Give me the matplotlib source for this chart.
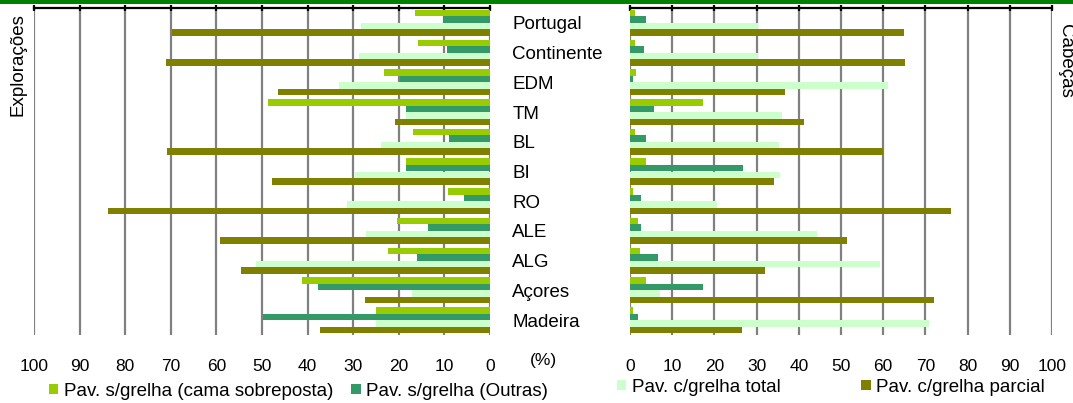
import matplotlib
matplotlib.use("Agg")
import matplotlib.pyplot as plt
from matplotlib.patches import Patch, Rectangle
import numpy as np

plt.rcParams['font.family'] = ['Liberation Sans', 'DejaVu Sans']

regions = ['Portugal', 'Continente', 'EDM', 'TM', 'BL', 'BI', 'RO', 'ALE', 'ALG', 'Açores', 'Madeira']
series = ['Pav. s/grelha (cama sobreposta)', 'Pav. s/grelha (Outras)',
          'Pav. c/grelha total', 'Pav. c/grelha parcial']
colors = ['#99CC00', '#339966', '#CCFFCC', '#808000']

# Explorações (%)
expl_cama = [16.4, 15.7, 23.2, 48.7, 16.8, 18.4, 9.2, 20.4, 22.3, 41.2, 24.9]
expl_outras = [10.3, 9.4, 19.8, 18.4, 9.0, 18.4, 5.8, 13.6, 16.0, 37.8, 49.8]
expl_total = [28.3, 28.7, 33.2, 18.4, 24.0, 29.5, 31.4, 27.2, 51.4, 17.0, 24.9]
expl_parcial = [69.8, 71.1, 46.5, 20.8, 70.9, 47.9, 83.8, 59.3, 54.7, 27.4, 37.3]

# Cabeças (%)
cab_cama = [1.2, 1.2, 1.5, 17.2, 1.2, 3.9, 0.8, 1.8, 2.3, 3.7, 0.8]
cab_outras = [3.7, 3.3, 0.8, 5.8, 3.7, 26.7, 2.7, 2.6, 6.7, 17.3, 1.8]
cab_total = [30.4, 30.4, 61.1, 36.0, 35.3, 35.5, 20.7, 44.4, 59.2, 7.2, 70.9]
cab_parcial = [64.9, 65.1, 36.7, 41.3, 60.0, 34.2, 76.0, 51.4, 32.1, 72.1, 26.5]

ticks = list(range(0, 101, 10))

W, H = 1073, 403
fig = plt.figure(figsize=(W / 100, H / 100), dpi=100)

top = 1 - 8 / H
bottom = 1 - 335 / H
ax1 = fig.add_axes([34 / W, bottom, 456 / W, top - bottom])
ax2 = fig.add_axes([630 / W, bottom, 422 / W, top - bottom])

y = np.arange(len(regions)) + 0.5
bh = 0.22
offsets = [-1.5 * bh, -0.5 * bh, 0.5 * bh, 1.5 * bh]

for ax, data in [(ax1, [expl_cama, expl_outras, expl_total, expl_parcial]),
                 (ax2, [cab_cama, cab_outras, cab_total, cab_parcial])]:
    for vals, off, c in zip(data, offsets, colors):
        ax.barh(y + off, vals, height=bh, color=c, linewidth=0)
    ax.set_ylim(len(regions), 0)
    ax.set_xticks(ticks)
    ax.set_axisbelow(True)
    ax.grid(axis='x', color='#808080', linewidth=1.6)
    for s in ['left', 'right', 'bottom']:
        ax.spines[s].set_visible(False)
    ax.spines['top'].set_linewidth(1.6)
    # tick marks on top, labels at the bottom
    ax.tick_params(axis='x', which='both', top=True, bottom=False, length=5, width=1.6,
                   direction='inout', labelsize=12.5, pad=15,
                   labelbottom=True, labeltop=False)
    ax.set_xticklabels([str(t) for t in ticks])

ax1.set_xlim(100, 0)
ax2.set_xlim(0, 100)

ax1.set_yticks(y)
ax1.set_yticklabels(regions, fontsize=13.5)
ax1.tick_params(axis='y', left=False, labelleft=False, right=True, labelright=True,
                length=0, pad=16)
ax2.set_yticks([])

fig.text(18 / W, 1 - 65 / H, 'Explorações', rotation=90, ha='center', va='center', fontsize=13.5)
fig.text(1066 / W, 1 - 61 / H, 'Cabeças', rotation=270, ha='center', va='center', fontsize=13.5)
fig.text(543 / W, 1 - 360 / H, '(%)', ha='center', va='center', fontsize=12.5)

# green rule on top
fig.add_artist(Rectangle((0, 1 - 3.5 / H), 1, 3.5 / H, transform=fig.transFigure,
                         color='#008000', linewidth=0))

handles = [Patch(facecolor=c, edgecolor='none') for c in colors]
leg_kw = dict(frameon=False, fontsize=13.5, handlelength=0.5, handleheight=0.5,
              handletextpad=0.3, borderpad=0, borderaxespad=0, loc='center left')
fig.legend(handles[:2], series[:2], ncol=2, columnspacing=0.95,
           bbox_to_anchor=(49 / W, 1 - 391 / H), **leg_kw)
fig.legend(handles[2:], series[2:], ncol=2, columnspacing=4.3,
           bbox_to_anchor=(617 / W, 1 - 387 / H), **leg_kw)

fig.savefig('out.png', dpi=100)
